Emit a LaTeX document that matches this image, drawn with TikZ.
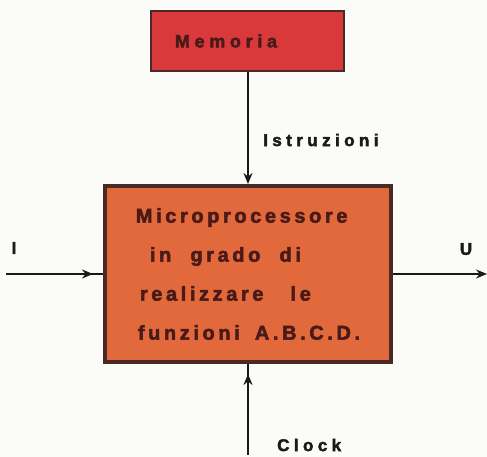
\documentclass[tikz,border=0pt]{standalone}
\usepackage{fontspec}
\usetikzlibrary{arrows.meta}
\newfontfamily\boxfont[LetterSpace=18, FakeBold=2.5]{Liberation Sans Bold}
\newfontfamily\labelfont[LetterSpace=26, FakeBold=2.5]{Liberation Sans Bold}
\definecolor{paper}{HTML}{FBFBF8}
\definecolor{memred}{HTML}{D9393B}
\definecolor{cpuorange}{HTML}{E2693B}
\definecolor{edgebrown}{HTML}{4A2A27}
\definecolor{inkbrown}{HTML}{4A1A18}
\definecolor{inkgray}{HTML}{1A1A1A}

\tikzset{
  blockbox/.style={draw=edgebrown, rectangle, inner sep=0pt, text=inkbrown},
  flow/.style={inkgray, line width=2pt},
  tag/.style={inkgray, font=\labelfont\fontsize{17}{17}\selectfont, inner sep=0pt}
}

\begin{document}
\begin{tikzpicture}[x=1pt, y=1pt, >={Stealth[length=11pt, width=9pt]}]
  \useasboundingbox[fill=paper] (0,0) rectangle (487,457);

  % blocks
  \node[blockbox, fill=memred, line width=2.5pt, minimum width=193pt, minimum height=60pt] (mem) at (247.5,416) {};
  \node[text=inkbrown, anchor=west, inner sep=0pt, font=\labelfont\fontsize{18}{18}\selectfont]
        (memtext) at ([xshift=25pt]mem.west) {Memoria};
  \node[blockbox, fill=cpuorange, line width=4pt, minimum width=286pt, minimum height=176pt,
        align=left, font=\boxfont\fontsize{20}{39}\selectfont] (cpu) at (248,183)
        {Microprocessore\\
         \hspace*{14pt}in\hspace{10pt} grado\hspace{10pt} di\\
         \hspace*{4pt}realizzare\hspace{18pt} le\\
         \hspace*{2pt}funzioni\hspace{6pt} A.B.C.D.};

  % labels
  \node[tag, anchor=west] (instr) at (263,317) {Istruzioni};
  \node[tag] (lin) at (14,209) {I};
  \node[tag] (lout) at (466,208) {U};
  \node[tag, anchor=west] (lclock) at (277,12) {Clock};

  \coordinate (src) at (6,183);
  \coordinate (dst) at (487,183);
  \coordinate (clk) at (248,2);

  % connectors
  \draw[flow, ->] (mem.south -| cpu.north) -- (cpu.north);
  \draw[flow] (src) -- (cpu.west);
  \draw[flow, ->] (src) -- ([xshift=-10pt]cpu.west);
  \draw[flow, ->] (cpu.east) -- (dst);
  \draw[flow] (clk) -- (cpu.south);
  \draw[flow, ->] (clk) -- ([yshift=-10pt]cpu.south);
\end{tikzpicture}
\end{document}
